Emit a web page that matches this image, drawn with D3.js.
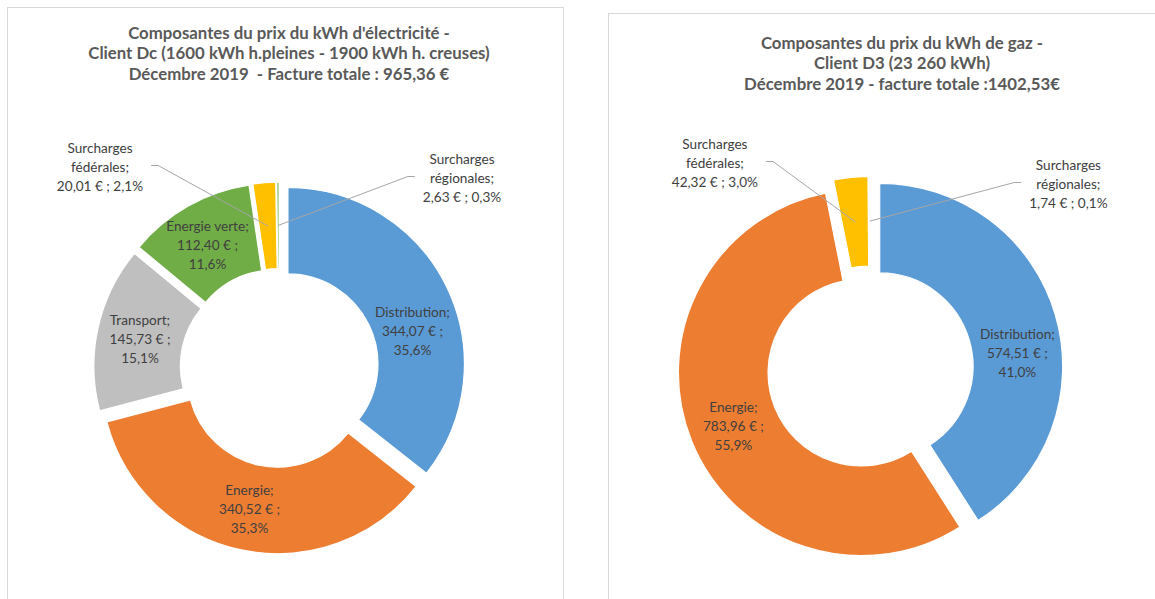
<!DOCTYPE html>
<html>
<head>
<meta charset="utf-8">
<script src="https://cdn.jsdelivr.net/npm/d3@7"></script>
<style>
  html, body { margin: 0; padding: 0; background: #fff; }
  svg { display: block; }
  text { white-space: pre; }
</style>
</head>
<body>
<svg id="chart" width="1155" height="599"></svg>
<script>
// ---- Electricity bill components (client Dc) ----
const elecCategories = ["Distribution", "Energie", "Transport", "Energie verte", "Surcharges fédérales", "Surcharges régionales"];
const elecValues = [344.07, 340.52, 145.73, 112.40, 20.01, 2.63];
const elecColors = ["#5B9BD5", "#ED7D31", "#BFBFBF", "#70AD47", "#FFC000", "#A9D18E"];
const elecTitle = [
  "Composantes du prix du kWh d'électricité -",
  "Client Dc (1600 kWh h.pleines - 1900 kWh h. creuses)",
  "Décembre 2019  - Facture totale : 965,36 €"
];

// ---- Gas bill components (client D3) ----
const gasCategories = ["Distribution", "Energie", "Surcharges fédérales", "Surcharges régionales"];
const gasValues = [574.51, 783.96, 42.32, 1.74];
const gasColors = ["#5B9BD5", "#ED7D31", "#FFC000", "#DDE7F4"];
const gasTitle = [
  "Composantes du prix du kWh de gaz -",
  "Client D3 (23 260 kWh)",
  "Décembre 2019 - facture totale :1402,53€"
];

// Label placement (offset of the label block from the ring centre) and style
const elecLabelLayout = [
  { dx: 133, dy: -37, outside: false },
  { dx: -30, dy: 141, outside: false },
  { dx: -139.5, dy: -29, outside: false },
  { dx: -72, dy: -123, outside: false },
  { dx: -179.5, dy: -201, outside: true },
  { dx: 182.5, dy: -190, outside: true }
];
const gasLabelLayout = [
  { dx: 147, dy: -16, outside: false },
  { dx: -137, dy: 57, outside: false },
  { dx: -155.5, dy: -206, outside: true },
  { dx: 198, dy: -185, outside: true }
];

const svg = d3.select("#chart");
const W = 1155, H = 599;

const fmtNum = v => d3.format(",.2f")(v).replace(/,/g, " ").replace(".", ",");
const fmtPct = v => d3.format(".1%")(v).replace(".", ",");

function panel(x, y, w, h) {
  svg.append("rect")
    .attr("x", x + 0.5).attr("y", y + 0.5)
    .attr("width", w).attr("height", h)
    .attr("fill", "#fff")
    .attr("stroke", "#D9D9D9").attr("stroke-width", 1);
}

function donut(opts) {
  const { categories, values, colors, title, layout, cx, cy, R, titleX, titleY } = opts;
  const total = d3.sum(values);
  const r = R * 0.51;
  const explode = R * 0.053;

  const g = svg.append("g");

  // title
  const t = g.append("text")
    .attr("x", titleX).attr("y", titleY)
    .attr("text-anchor", "middle")
    .attr("font-family", "Lato, 'Open Sans', sans-serif")
    .attr("font-weight", 700)
    .attr("font-size", 16.8)
    .attr("fill", "#595959");
  title.forEach((line, i) => {
    t.append("tspan").attr("x", titleX).attr("dy", i === 0 ? 0 : 20.5).text(line);
  });

  const pie = d3.pie().sort(null).value(d => d.value).startAngle(0).endAngle(2 * Math.PI);
  const arc = d3.arc().innerRadius(r).outerRadius(R);
  const data = categories.map((c, i) => ({ name: c, value: values[i], color: colors[i], lay: layout[i] }));
  const arcs = pie(data);

  const shift = a => {
    const m = (a.startAngle + a.endAngle) / 2;
    return [explode * Math.sin(m), -explode * Math.cos(m)];
  };

  const ring = g.append("g").attr("transform", `translate(${cx},${cy})`);
  ring.selectAll("path").data(arcs).enter().append("path")
    .attr("d", arc)
    .attr("transform", d => `translate(${shift(d)})`)
    .attr("fill", d => d.data.color)
    .attr("stroke", "#fff").attr("stroke-width", 1.2);

  // data labels
  arcs.forEach(a => {
    const d = a.data, lay = d.lay;
    const pct = fmtPct(d.value / total);
    const lines = lay.outside
      ? [...d.name.split(" ").map((w, i, arr) => i === arr.length - 1 ? w + ";" : w), `${fmtNum(d.value)} € ; ${pct}`]
      : [d.name + ";", `${fmtNum(d.value)} € ;`, pct];
    const lx = cx + lay.dx, ly = cy + lay.dy;
    const lh = 18.7;
    const txt = g.append("text")
      .attr("text-anchor", "middle")
      .attr("font-family", "Lato, 'Open Sans', sans-serif")
      .attr("font-size", 13.6)
      .attr("fill", "#404040");
    lines.forEach((ln, i) => {
      txt.append("tspan")
        .attr("x", lx)
        .attr("y", ly + (i - (lines.length - 1) / 2) * lh + 4.8)
        .text(ln);
    });

    if (lay.outside) {
      const half = d3.max(txt.selectAll("tspan").nodes(), n => n.getComputedTextLength()) / 2;
      const [ox, oy] = shift(a);
      const [px, py] = arc.centroid(a);
      const sx = cx + px + ox, sy = cy + py + oy;
      const side = sx > lx ? 1 : -1;
      const ex = lx + side * (half + 8);
      const ey = ly - 1.5;
      g.append("polyline")
        .attr("points", [[ex, ey], [ex + side * 7, ey], [sx, sy]].map(p => p.join(",")).join(" "))
        .attr("fill", "none")
        .attr("stroke", "#A6A6A6").attr("stroke-width", 1);
    }
  });
}

panel(7, 7, 556, H);
panel(608, 13, W, H);

donut({
  categories: elecCategories, values: elecValues, colors: elecColors,
  title: elecTitle, layout: elecLabelLayout,
  cx: 279.5, cy: 368, R: 176.5, titleX: 289, titleY: 38.5
});

donut({
  categories: gasCategories, values: gasValues, colors: gasColors,
  title: gasTitle, layout: gasLabelLayout,
  cx: 870.4, cy: 369, R: 183, titleX: 902, titleY: 48.5
});
</script>
</body>
</html>
